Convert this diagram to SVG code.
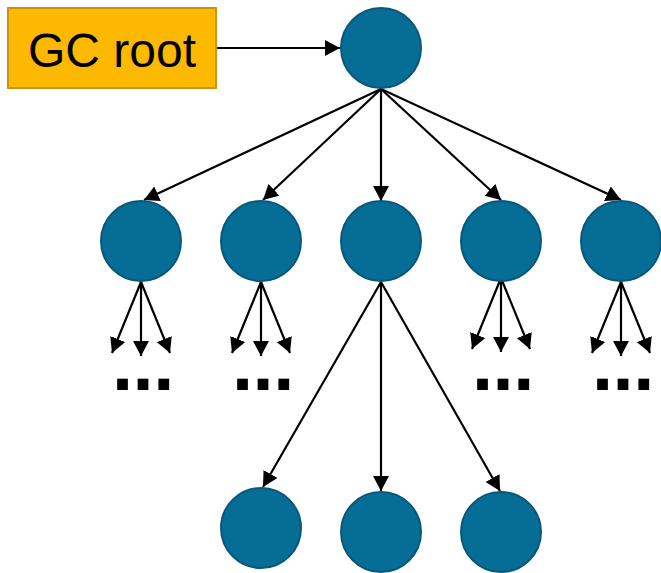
<svg xmlns="http://www.w3.org/2000/svg" width="661" height="573" viewBox="0 0 661 573">
  <style>
    .node { fill: #066d96; stroke: #0a5878; stroke-width: 2; }
    .edge { stroke: #000; stroke-width: 2.2; fill: none; marker-end: url(#arrow); }
    .label { font-family: "Liberation Sans", Arial, sans-serif; fill: #000; }
    .more { font-family: "Liberation Sans", Arial, sans-serif; font-weight: bold; font-size: 76px; fill: #000; letter-spacing: -0.5px; }
  </style>
  <defs>
    <marker id="arrow" markerUnits="userSpaceOnUse" markerWidth="16" markerHeight="17" refX="15" refY="8" orient="auto">
      <path d="M0,0 L15,8 L0,16 z" fill="#000"/>
    </marker>
  </defs>

  <rect width="661" height="573" fill="#fff"/>

  <g id="edges">
    <!-- GC root to root object -->
    <line class="edge" x1="216" y1="48" x2="340" y2="48"/>
    <!-- root object to first level -->
    <line class="edge" x1="381" y1="89" x2="144" y2="200"/>
    <line class="edge" x1="381" y1="89" x2="263" y2="200"/>
    <line class="edge" x1="381" y1="89" x2="381" y2="201"/>
    <line class="edge" x1="381" y1="89" x2="501" y2="200"/>
    <line class="edge" x1="381" y1="89" x2="621" y2="200"/>
    <!-- fans below first-level nodes -->
    <line class="edge" x1="141" y1="282" x2="112" y2="353"/>
    <line class="edge" x1="141" y1="282" x2="141" y2="356"/>
    <line class="edge" x1="141" y1="282" x2="170" y2="353"/>
    <line class="edge" x1="261" y1="282" x2="232" y2="353"/>
    <line class="edge" x1="261" y1="282" x2="261" y2="356"/>
    <line class="edge" x1="261" y1="282" x2="290" y2="353"/>
    <line class="edge" x1="501" y1="278" x2="472" y2="349"/>
    <line class="edge" x1="501" y1="278" x2="501" y2="352"/>
    <line class="edge" x1="501" y1="278" x2="530" y2="349"/>
    <line class="edge" x1="621" y1="282" x2="592" y2="353"/>
    <line class="edge" x1="621" y1="282" x2="621" y2="356"/>
    <line class="edge" x1="621" y1="282" x2="650" y2="353"/>
    <!-- middle node to second level -->
    <line class="edge" x1="381" y1="282" x2="263" y2="487"/>
    <line class="edge" x1="381" y1="282" x2="381" y2="491"/>
    <line class="edge" x1="381" y1="282" x2="500" y2="491"/>
  </g>

  <g id="gc-root">
    <rect x="8" y="8" width="208" height="80" fill="#fdb900" stroke="#c8960c" stroke-width="2"/>
    <text class="label" x="112" y="67" font-size="48" text-anchor="middle">GC root</text>
  </g>

  <g id="root-object"><circle class="node" cx="381" cy="48" r="40"/></g>

  <g id="child-1"><circle class="node" cx="141" cy="241" r="40"/></g>
  <g id="child-2"><circle class="node" cx="261" cy="241" r="40"/></g>
  <g id="child-3"><circle class="node" cx="381" cy="241" r="40"/></g>
  <g id="child-4"><circle class="node" cx="501" cy="241" r="40"/></g>
  <g id="child-5"><circle class="node" cx="621" cy="241" r="40"/></g>

  <g id="grandchild-1"><circle class="node" cx="261" cy="528" r="40"/></g>
  <g id="grandchild-2"><circle class="node" cx="381" cy="532" r="40"/></g>
  <g id="grandchild-3"><circle class="node" cx="501" cy="532" r="40"/></g>

  <g id="ellipses">
    <text class="more" x="112" y="390">...</text>
    <text class="more" x="232" y="390">...</text>
    <text class="more" x="472" y="390">...</text>
    <text class="more" x="592" y="390">...</text>
  </g>
</svg>
